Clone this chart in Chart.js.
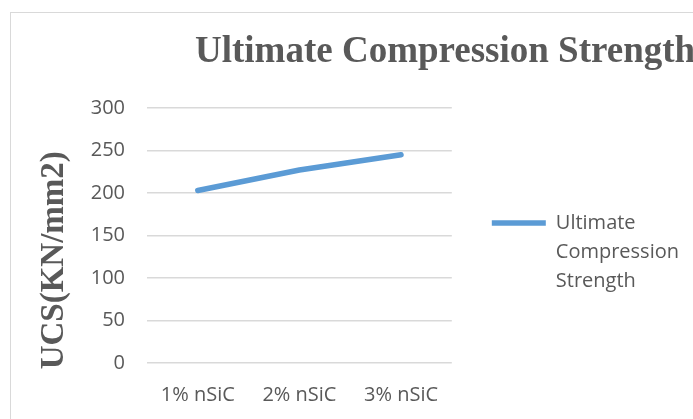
<!DOCTYPE html>
<html>
<head>
<meta charset="utf-8">
<script src="https://cdn.jsdelivr.net/npm/chart.js@4.4.1/dist/chart.umd.min.js"></script>
<style>
  html, body { margin: 0; padding: 0; background: #fff; overflow: hidden; }
  #frame {
    position: absolute; left: 10px; top: 12px;
    width: 720px; height: 440px;
    border: 1px solid #d9d9d9;
    background: #fff;
  }
</style>
</head>
<body>
<div id="frame"><canvas id="ucs" width="720" height="440"></canvas></div>
<script>
const TEXT_COLOR = '#595959';
const GRID_COLOR = '#d9d9d9';
const LINE_COLOR = '#5b9bd5';

const chartTitle = 'Ultimate Compression Strength';
const yAxisTitle = 'UCS(KN/mm2)';
const categories = ['1% nSiC', '2% nSiC', '3% nSiC'];
const seriesLabel = ['Ultimate', 'Compression', 'Strength'];
const ucsValues = [203, 227, 245];
const yTicks = [0, 50, 100, 150, 200, 250, 300];

const SERIF = '"Liberation Serif", "Times New Roman", serif';
const SANS = '"Open Sans", sans-serif';

// title sits off-centre over the plot, so draw it ourselves
const titlePlugin = {
  id: 'offsetTitle',
  afterDraw(chart) {
    const { ctx, chartArea } = chart;
    ctx.save();
    ctx.font = 'bold 37px ' + SERIF;
    ctx.fillStyle = TEXT_COLOR;
    ctx.textBaseline = 'alphabetic';
    ctx.fillText(chartTitle, chartArea.left + 48, chartArea.top - 46);
    ctx.restore();
  }
};

new Chart(document.getElementById('ucs'), {
  type: 'line',
  data: {
    labels: categories,
    datasets: [{
      label: seriesLabel,
      data: ucsValues,
      borderColor: LINE_COLOR,
      backgroundColor: LINE_COLOR,
      borderWidth: 5.5,
      borderCapStyle: 'round',
      borderJoinStyle: 'round',
      pointRadius: 0,
      pointHoverRadius: 0,
      tension: 0
    }]
  },
  options: {
    responsive: false,
    animation: false,
    layout: { padding: { top: 95, left: 0, right: 42, bottom: 48 } },
    plugins: {
      title: { display: false },
      tooltip: { enabled: false },
      legend: {
        position: 'right',
        align: 'center',
        maxWidth: 300,
        labels: {
          color: TEXT_COLOR,
          font: { family: SANS, size: 20, lineHeight: 1.45 },
          usePointStyle: true,
          pointStyle: 'line',
          boxWidth: 54,
          boxHeight: 20,
          pointStyleWidth: 54,
          padding: 40
        }
      }
    },
    scales: {
      x: {
        offset: true,
        grid: { display: false, drawTicks: false },
        border: { display: false },
        ticks: {
          color: TEXT_COLOR,
          font: { family: SANS, size: 20 },
          padding: 20,
          maxRotation: 0
        },
        afterFit(scale) {
          scale.height = 42;
        }
      },
      y: {
        min: 0,
        max: 300,
        afterBuildTicks(scale) {
          scale.ticks = yTicks.map(v => ({ value: v }));
        },
        afterFit(scale) {
          scale.width = 136;
        },
        grid: { color: GRID_COLOR, lineWidth: 1.5, drawTicks: false },
        border: { display: false },
        ticks: {
          color: TEXT_COLOR,
          font: { family: SANS, size: 20 },
          padding: 22
        },
        title: {
          display: true,
          // trailing spaces push the title a bit below the plot's middle
          text: yAxisTitle + '      ',
          color: TEXT_COLOR,
          font: { family: SERIF, size: 33, weight: 'bold' },
          padding: { top: 24, bottom: 16 }
        }
      }
    }
  },
  plugins: [titlePlugin]
});
</script>
</body>
</html>
